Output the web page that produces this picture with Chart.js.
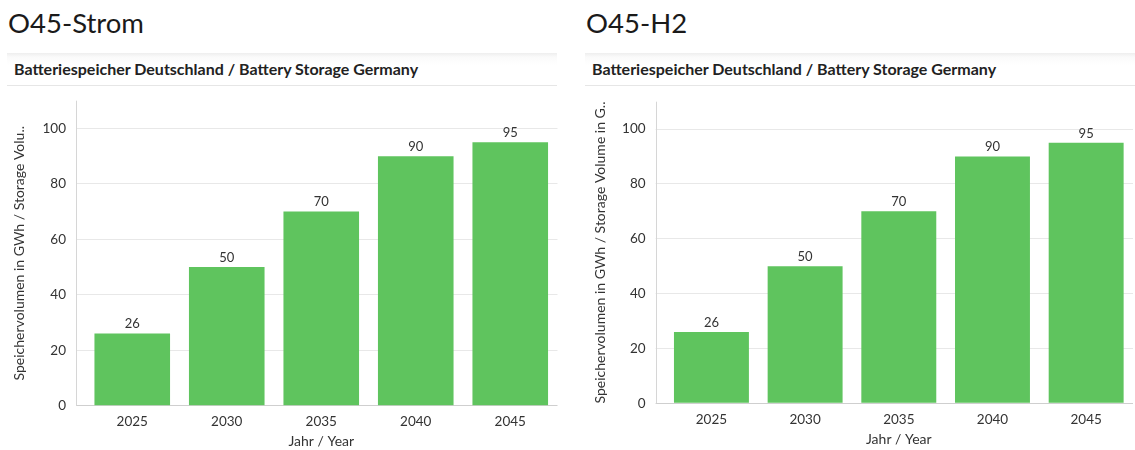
<!DOCTYPE html>
<html>
<head>
<meta charset="utf-8">
<script src="https://cdn.jsdelivr.net/npm/chart.js@4/dist/chart.umd.min.js"></script>
<style>
  body { margin: 0; background: #fff; font-family: Lato, sans-serif; color: #222; }
  .panel { position: absolute; top: 0; width: 550px; height: 450px; }
  .panel h1 { position: absolute; left: 1px; top: 5px; margin: 0; font-weight: 400; font-size: 27.5px; line-height: 36px; color: #1a1a1a; }
  .card-head {
    position: absolute; left: 0; right: 0; top: 53px; height: 32px;
    background: linear-gradient(#eeeeee 0px, #fafafa 4px, #ffffff 12px);
    border-bottom: 1px solid #e6e6e6;
  }
  .card-head span { position: absolute; left: 7px; top: 6px; font-size: 16px; font-weight: 700; color: #222; }
  .panel canvas { position: absolute; left: 0; top: 88px; }
</style>
</head>
<body>
<div class="panel" style="left:7px">
  <h1>O45-Strom</h1>
  <div class="card-head"><span>Batteriespeicher Deutschland / Battery Storage Germany</span></div>
  <canvas id="chartStrom" width="552" height="362" style="width:552px;height:362px"></canvas>
</div>
<div class="panel" style="left:585px">
  <h1>O45-H2</h1>
  <div class="card-head"><span>Batteriespeicher Deutschland / Battery Storage Germany</span></div>
  <canvas id="chartH2" width="550" height="362" style="width:550px;height:362px"></canvas>
</div>
<script>
const years = ['2025', '2030', '2035', '2040', '2045'];
const stromValues = [26, 50, 70, 90, 95];
const h2Values = [26, 50, 70, 90, 95];
const yMax = 110;
const yStep = 20;
const xTitle = 'Jahr / Year';
const yTitleStrom = 'Speichervolumen in GWh / Storage Volu..';
const yTitleH2 = 'Speichervolumen in GWh / Storage Volume in G..';

const barColor = 'rgb(95,196,94)';
const textColor = '#333';

// value labels above the bars
const valueLabels = {
  id: 'valueLabels',
  afterDatasetsDraw(chart) {
    const ctx = chart.ctx;
    const meta = chart.getDatasetMeta(0);
    const data = chart.data.datasets[0].data;
    ctx.save();
    ctx.font = '13px Lato';
    ctx.fillStyle = textColor;
    ctx.textAlign = 'center';
    ctx.textBaseline = 'bottom';
    meta.data.forEach((bar, i) => {
      ctx.fillText(String(data[i]), bar.x, bar.y - 3);
    });
    ctx.restore();
  }
};

// vertical axis line sits at the end of the grid tick marks
const axisLine = {
  id: 'axisLine',
  beforeDatasetsDraw(chart) {
    const {ctx, chartArea} = chart;
    const x = Math.round(chartArea.left - 9) + 0.5;
    ctx.save();
    ctx.strokeStyle = '#d6d6d6';
    ctx.lineWidth = 1;
    ctx.beginPath();
    ctx.moveTo(x, chartArea.top);
    ctx.lineTo(x, chartArea.bottom);
    ctx.stroke();
    ctx.restore();
  }
};

function makeChart(id, values, yTitle, opts){
  const canvas = document.getElementById(id);
  return new Chart(canvas.getContext('2d'), {
    type: 'bar',
    data: {
      labels: years,
      datasets: [{
        data: values,
        backgroundColor: barColor,
        borderWidth: 0,
        barPercentage: 0.8,
        categoryPercentage: 1
      }]
    },
    options: {
      responsive: false,
      animation: false,
      layout: { padding: { top: opts.top, right: opts.right, bottom: 0, left: 0 } },
      plugins: { legend: { display: false }, tooltip: { enabled: false } },
      scales: {
        x: {
          offset: true,
          grid: { display: false, drawTicks: false },
          border: { display: false },
          ticks: { color: textColor, font: { family: 'Lato', size: 13.5 }, padding: opts.tickPad },
          title: { display: true, text: xTitle, color: textColor, font: { family: 'Lato', size: 14 }, padding: { top: 4, bottom: opts.titleBottom } },
          afterFit(scale) { scale.height = opts.xHeight; }
        },
        y: {
          min: 0,
          max: yMax,
          border: { display: false },
          grid: {
            tickLength: 9,
            color: ctx => {
              const v = ctx.tick ? ctx.tick.value : 0;
              if (v === 0) return '#cfcfcf';
              if (v % yStep !== 0) return 'rgba(0,0,0,0)';
              return '#e8e8e8';
            }
          },
          ticks: {
            stepSize: 10,
            padding: 10,
            color: textColor,
            font: { family: 'Lato', size: 13.5 },
            callback: v => (v % yStep === 0 ? v : '')
          },
          title: { display: true, text: yTitle, color: textColor, font: { family: 'Lato', size: 14 }, padding: { top: opts.yTitlePad, bottom: 0 } },
          afterFit(scale) {
            scale.width = opts.yWidth;
            // let layout.padding decide the plot top
            scale.paddingTop = 0;
            scale.paddingBottom = 0;
          }
        }
      }
    },
    plugins: [axisLine, valueLabels]
  });
}

makeChart('chartStrom', stromValues, yTitleStrom, { top: 12.7, right: 1.5, yWidth: 78, xHeight: 44.3, tickPad: 8, titleBottom: 0, yTitlePad: 4 });
makeChart('chartH2', h2Values, yTitleH2, { top: 13.7, right: 2, yWidth: 79.6, xHeight: 46.7, tickPad: 8, titleBottom: 2, yTitlePad: 7 });
</script>
</body>
</html>
